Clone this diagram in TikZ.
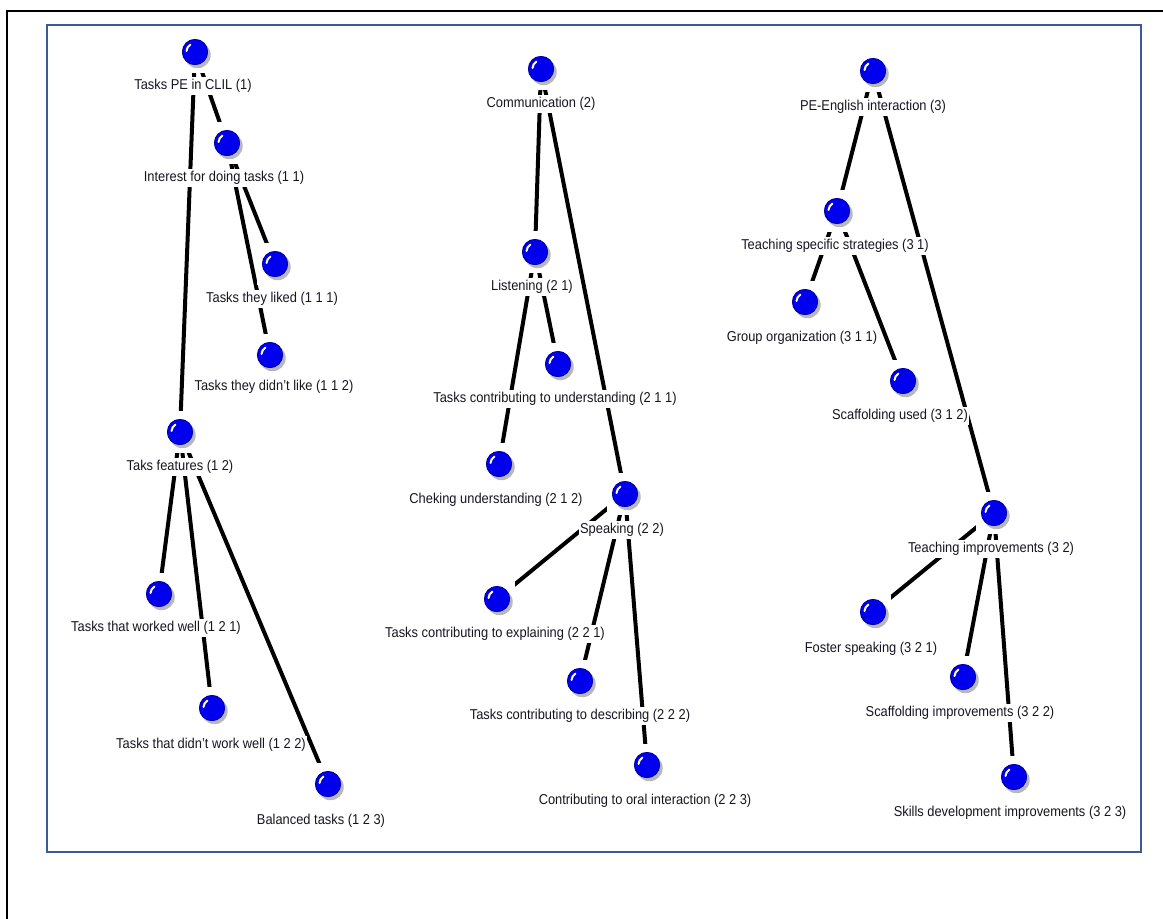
\documentclass[tikz,border=0pt]{standalone}
\usepackage{fontspec}
\setmainfont{Liberation Sans}[FakeStretch=0.9]
\definecolor{frameblue}{RGB}{58,92,150}
\definecolor{ballblue}{RGB}{0,0,238}
\definecolor{ballrim}{RGB}{0,0,150}
\definecolor{labeltext}{RGB}{22,22,34}
\begin{document}
\pgfdeclarelayer{edges}
\pgfsetlayers{edges,main}
\begin{tikzpicture}[x=1pt,y=-1pt,
  ballnode/.style={rectangle, fill=white, minimum width=36pt, minimum height=42pt, inner sep=0pt,
    path picture={
      \coordinate (c) at (path picture bounding box.center);
      \fill[black!28] ([shift={(2.5,3)}]c) circle (13.2pt);
      \fill[ballblue] (c) circle (13pt);
      \draw[ballrim, line width=0.7pt] (c) circle (12.6pt);
      \draw[white, line width=2pt, line cap=round] ([shift={(-8.5,-1)}]c) to[bend left=25] ([shift={(-4.5,-7.5)}]c);
    }},
  lbl/.style={fill=white, inner sep=1.5pt, minimum height=18pt, text=labeltext,
    font=\fontsize{14.3}{16}\selectfont},
  edge/.style={line width=4pt, black}
]
\useasboundingbox (0,0) rectangle (1163,919);
% page rules and frame
\draw[line width=2.5pt] (1163,11) -- (7,11) -- (7,919);
\draw[frameblue, line width=2pt] (47,25) rectangle (1141,852);

% tree 1
\node[ballnode] (n1)   at (195,52)  {};
\node[ballnode] (n11)  at (227,143) {};
\node[ballnode] (n111) at (275,264) {};
\node[ballnode] (n112) at (270,355) {};
\node[ballnode] (n12)  at (180,432) {};
\node[ballnode] (n121) at (159,594) {};
\node[ballnode] (n122) at (212,708) {};
\node[ballnode] (n123) at (328,784) {};
\node[lbl] (l1)   at (193,86)  {Tasks PE in CLIL (1)};
\node[lbl] (l11)  at (224,178) {Interest for doing tasks (1 1)};
\node[lbl] (l111) at (272,299) {Tasks they liked (1 1 1)};
\node[lbl] (l112) at (274,387) {Tasks they didn't like (1 1 2)};
\node[lbl] (l12)  at (180,467) {Taks features (1 2)};
\node[lbl] (l121) at (156,628) {Tasks that worked well (1 2 1)};
\node[lbl] (l122) at (211,745) {Tasks that didn't work well (1 2 2)};
\node[lbl] (l123) at (321,821) {Balanced tasks (1 2 3)};

% tree 2
\node[ballnode] (n2)   at (541,69)  {};
\node[ballnode] (n21)  at (535,252) {};
\node[ballnode] (n211) at (558,364) {};
\node[ballnode] (n212) at (499,464) {};
\node[ballnode] (n22)  at (625,494) {};
\node[ballnode] (n221) at (497,599) {};
\node[ballnode] (n222) at (580,681) {};
\node[ballnode] (n223) at (647,765) {};
\node[lbl] (l2)   at (541,104) {Communication (2)};
\node[lbl] (l21)  at (532,287) {Listening (2 1)};
\node[lbl] (l211) at (555,399) {Tasks contributing to understanding (2 1 1)};
\node[lbl] (l212) at (496,500) {Cheking understanding (2 1 2)};
\node[lbl] (l22)  at (622,530) {Speaking (2 2)};
\node[lbl] (l221) at (495,634) {Tasks contributing to explaining (2 2 1)};
\node[lbl] (l222) at (580,716) {Tasks contributing to describing (2 2 2)};
\node[lbl] (l223) at (645,801) {Contributing to oral interaction (2 2 3)};

% tree 3
\node[ballnode] (n3)   at (873,71)  {};
\node[ballnode] (n31)  at (837,211) {};
\node[ballnode] (n311) at (805,302) {};
\node[ballnode] (n312) at (903,381) {};
\node[ballnode] (n32)  at (994,513) {};
\node[ballnode] (n321) at (873,612) {};
\node[ballnode] (n322) at (963,677) {};
\node[ballnode] (n323) at (1014,777) {};
\node[lbl] (l3)   at (873,107) {PE-English interaction (3)};
\node[lbl] (l31)  at (835,246) {Teaching specific strategies (3 1)};
\node[lbl] (l311) at (802,338) {Group organization (3 1 1)};
\node[lbl] (l312) at (900,416) {Scaffolding used (3 1 2)};
\node[lbl] (l32)  at (991,549) {Teaching improvements (3 2)};
\node[lbl] (l321) at (871,649) {Foster speaking (3 2 1)};
\node[lbl] (l322) at (960,713) {Scaffolding improvements (3 2 2)};
\node[lbl] (l323) at (1010,813) {Skills development improvements (3 2 3)};

% connectors, drawn beneath the nodes
\begin{pgfonlayer}{edges}
  \draw[edge] (n1.center) -- (n11.center);
  \draw[edge] (n1.center) -- (n12.center);
  \draw[edge] (n11.center) -- (n111.center);
  \draw[edge] (n11.center) -- (n112.center);
  \draw[edge] (n12.center) -- (n121.center);
  \draw[edge] (n12.center) -- (n122.center);
  \draw[edge] (n12.center) -- (n123.center);
  \draw[edge] (n2.center) -- (n21.center);
  \draw[edge] (n2.center) -- (n22.center);
  \draw[edge] (n21.center) -- (n211.center);
  \draw[edge] (n21.center) -- (n212.center);
  \draw[edge] (n22.center) -- (n221.center);
  \draw[edge] (n22.center) -- (n222.center);
  \draw[edge] (n22.center) -- (n223.center);
  \draw[edge] (n3.center) -- (n31.center);
  \draw[edge] (n3.center) -- (n32.center);
  \draw[edge] (n31.center) -- (n311.center);
  \draw[edge] (n31.center) -- (n312.center);
  \draw[edge] (n32.center) -- (n321.center);
  \draw[edge] (n32.center) -- (n322.center);
  \draw[edge] (n32.center) -- (n323.center);
\end{pgfonlayer}
\end{tikzpicture}
\end{document}
